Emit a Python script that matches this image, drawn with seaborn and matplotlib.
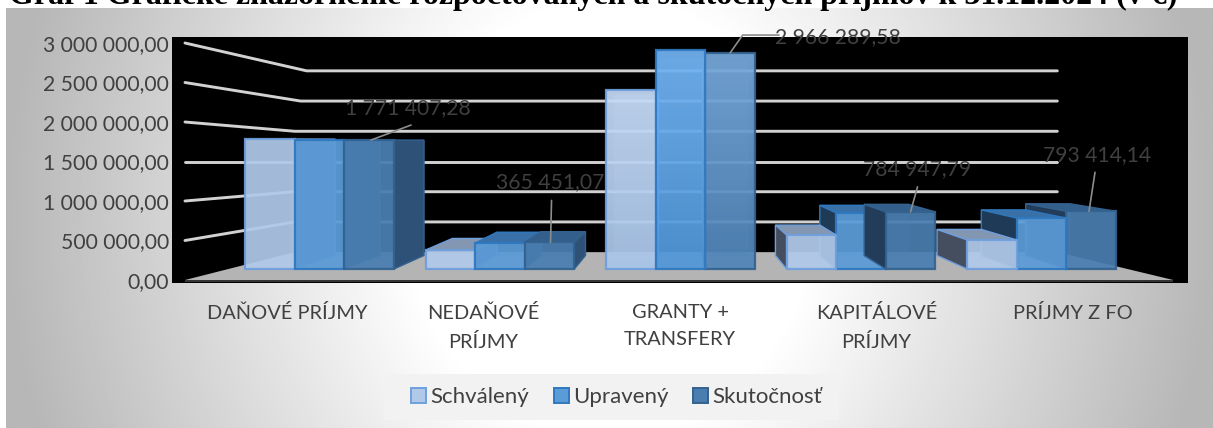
import numpy as np
import pandas as pd
import matplotlib
matplotlib.use("Agg")
import matplotlib.pyplot as plt
from matplotlib.patches import Polygon, Rectangle
from matplotlib.colors import LinearSegmentedColormap
import seaborn as sns

categories = ["DAŇOVÉ PRÍJMY", "NEDAŇOVÉ\nPRÍJMY", "GRANTY +\nTRANSFERY", "KAPITÁLOVÉ\nPRÍJMY", "PRÍJMY Z FO"]
series_names = ["Schválený", "Upravený", "Skutočnosť"]
schvaleny = [1786000, 261000, 2460000, 467000, 400000]
upraveny = [1771000, 357000, 3008000, 770000, 700000]
skutocnost = [1771407.28, 365451.07, 2966289.58, 784947.79, 793414.14]
value_labels = ["1 771 407,28", "365 451,07", "2 966 289,58", "784 947,79", "793 414,14"]
axis_ticks = [0, 500000, 1000000, 1500000, 2000000, 2500000, 3000000]
axis_labels = ["0,00", "500 000,00", "1 000 000,00", "1 500 000,00", "2 000 000,00", "2 500 000,00", "3 000 000,00"]
title = "Graf 1 Grafické znázornenie rozpočtovaných a skutočných príjmov k 31.12.2024 (v €)"

W, H = 1213, 428
sns.set_theme(style="white")
plt.rcParams["font.family"] = ["Lato", "DejaVu Sans"]
TXT = "#404040"

def bounds(x0, y0, x1, y1):
    return [x0 / W, 1 - y1 / H, (x1 - x0) / W, (y1 - y0) / H]

fig = plt.figure(figsize=(W / 100, H / 100), dpi=100, facecolor="white")

# chart-area background
bg = fig.add_axes(bounds(6, 8, 1213, 428), zorder=0)
xx, yy = np.meshgrid(np.linspace(-1, 1, 600), np.linspace(-1, 1, 200))
r = np.sqrt(xx ** 2 + (0.32 * yy) ** 2)
shade = 255 - np.clip((r - 0.33) / 0.67, 0, 1) * 72
bg.imshow(shade, cmap="gray", vmin=0, vmax=255, aspect="auto")
bg.axis("off")

# wall / floor axes with the value labels
ax = fig.add_axes(bounds(172, 37, 1188, 283), zorder=1)
ax.set_facecolor("black")
ax.set_xlim(-0.585, 4.585)
ax.set_ylim(-0.038e6, 3.076e6)
ax.set_yticks(axis_ticks, axis_labels, fontsize=15.2, color=TXT)
ax.set_xticks(range(len(categories)), categories, fontsize=14.4, color=TXT, linespacing=1.72)
ax.tick_params(length=0)
ax.tick_params(axis="y", pad=2)
ax.tick_params(axis="x", pad=15)
sns.despine(ax=ax, left=True, bottom=True)

def wall(v):
    return 1.5e6 + (v - 1.5e6) * 0.765

FL, BL, BR, FR = -0.519, 0.04, 3.92, 4.51
ax.add_patch(Polygon([(FL, 0), (FR, 0), (BR, wall(0)), (BL, wall(0))], fc="#b4b4b4", ec="none", zorder=2))
ax.add_patch(Rectangle((FL, -0.03e6), FR - FL, 0.03e6, fc="#353535", ec="none", zorder=2))
for v, shift in zip(axis_ticks[1:], [0, 0, 0, 0, 0.03, 0.06]):
    ax.plot([FL, BL + shift, BR], [v, wall(v), wall(v)], color="#d2d2d2", lw=2.1, zorder=1,
            solid_joinstyle="miter")

# bars
df = pd.DataFrame({
    "kat": categories * 3,
    "rad": np.repeat(series_names, len(categories)),
    "hod": schvaleny + upraveny + skutocnost,
})
ax2 = fig.add_axes(bounds(172, 37, 1188, 283), zorder=2)
face = ["#b0c9e9", "#5b9bd7", "#4a7eb0"]
grad_top = ["#c6dbf7", "#72b4f4", "#78aadc"]
grad_bot = ["#a9c5e9", "#5096d8", "#4f84b8"]
edge = ["#6f9fdd", "#2f78bf", "#34628f"]
sns.barplot(data=df, x="kat", y="hod", hue="rad", hue_order=series_names, order=categories,
            palette=face, width=0.824, gap=0, dodge=True, saturation=1, ax=ax2, errorbar=None)
handles, labels = ax2.get_legend_handles_labels()
ax2.get_legend().remove()
XLIM, YLIM = (-0.817, 4.812), (-0.192e6, 3.187e6)

VX, VY, K = 2.0, 1.77e6, 0.105
def back(x, v):
    return (x + (VX - x) * K, v + (VY - v) * K)

top_c = ["#8497b2", "#3a70a8", "#335f8c"]
left_c = ["#454e5f", "#1f3a56", "#223c59"]
right_c = ["#5d7fa8", "#2c5d90", "#2e5178"]

for s, cont in enumerate(ax2.containers):
    cmap = LinearSegmentedColormap.from_list("g", [grad_top[s], grad_bot[s]])
    for g, bar in enumerate(cont):
        l, w, v = bar.get_x(), bar.get_width(), bar.get_height()
        rr = l + w
        c = l + w / 2
        rank = -abs(c - VX) * 10
        if g == 3 and s == 2:
            rank = -12 + 0.5
        elif g == 3:
            rank = -abs(c - VX) * 10 - 5
        bar.set_facecolor(face[s])
        bar.set_alpha(0.93)
        bar.set_edgecolor(edge[s])
        bar.set_linewidth(1.6)
        bar.set_zorder(50 + rank)
        if g == 2:
            bar.set_facecolor("none")
            im = ax2.imshow(np.linspace(0, 1, 64).reshape(-1, 1), cmap=cmap, extent=(l, rr, 0, v),
                            aspect="auto", alpha=0.93, zorder=50 + rank - 0.005, origin="upper")
            im.set_clip_path(bar)
        zb = 50 + rank - 0.01
        bl, bv0 = back(l, 0)
        br, _ = back(rr, 0)
        _, bvt = back(l, v)
        kw = dict(ec=edge[s], lw=1.0, zorder=zb)
        ax2.add_patch(Polygon([(bl, bv0), (br, bv0), (br, bvt), (bl, bvt)], fc=face[s], alpha=0.22,
                              ec=edge[s], lw=1, zorder=zb))
        if v < VY:
            ax2.add_patch(Polygon([(l, v), (rr, v), (br, bvt), (bl, bvt)], fc=top_c[s], **kw))
        if rr < VX:
            ax2.add_patch(Polygon([(rr, 0), (rr, v), (br, bvt), (br, bv0)], fc=right_c[s], **kw))
        if l > VX:
            ax2.add_patch(Polygon([(l, 0), (l, v), (bl, bvt), (bl, bv0)], fc=left_c[s], **kw))
ax2.set_xlim(*XLIM)
ax2.set_ylim(*YLIM)
ax2.axis("off")

# data labels on the last series with leader lines (offsets in pixels from the bar-top centre)
text_off = [(39, 32), (1, 60), (108, 16), (7, 43), (6, 56)]
line_start = [(2, 0), (1, 0), (0, 0), (0, 0), (-2, 0)]
line_end = [(40, 15), (1, 42), (37, 18), (7, 25), (6, 39)]
line_kw = dict(arrowstyle="-", color="#8c8c8c", lw=1.2, shrinkA=0, shrinkB=0)
last = ax2.containers[2]
for i, (bar, txt) in enumerate(zip(last, value_labels)):
    xy = (bar.get_x() + bar.get_width() / 2, bar.get_height())
    ax2.annotate(txt, xy=xy, xytext=text_off[i], textcoords="offset pixels", ha="center", va="center",
                 fontsize=15.2, color=TXT, annotation_clip=False, zorder=200)
    px = ax2.transData.transform(xy) + np.array(line_start[i])
    kw = dict(line_kw)
    if i == 2:
        kw["connectionstyle"] = "angle,angleA=0,angleB=55,rad=0"
        end = (line_end[i][0] + 12, line_end[i][1])
    else:
        end = line_end[i]
    ax2.annotate("", xy=px, xycoords="figure pixels", xytext=end, textcoords="offset pixels",
                 arrowprops=kw, annotation_clip=False, zorder=199)

# legend
fig.add_artist(Rectangle((384 / W, 1 - 420 / H), 455 / W, 46 / H, transform=fig.transFigure,
                         fc="#f2f2f2", ec="none", zorder=4))
for h, c, e in zip(handles, face, edge):
    h.set_facecolor(c)
    h.set_edgecolor(e)
    h.set_linewidth(1.4)
leg = fig.legend(handles, labels, loc="center", bbox_to_anchor=(616.5 / W, 1 - 397 / H), ncols=3,
                 fontsize=16, frameon=False,
                 handlelength=0.68, handleheight=0.68, handletextpad=0.18, columnspacing=1.12,
                 labelcolor=TXT)
leg.set_zorder(5)

fig.text(9 / W, 1 - 4 / H, title, family="Liberation Serif", fontweight="bold", fontsize=23,
         color="black", ha="left", va="baseline")

fig.savefig("out.png", dpi=100, facecolor="white")
